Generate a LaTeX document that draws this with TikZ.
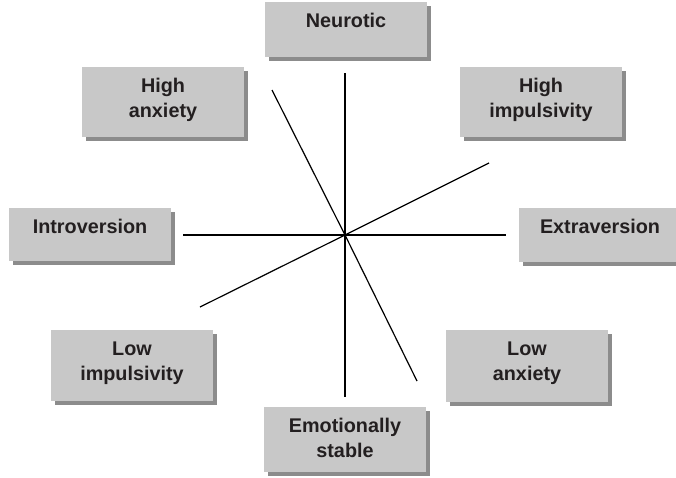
\documentclass[tikz,border=0pt]{standalone}
\usepackage{fontspec}
\usepackage{tikz}
\usetikzlibrary{shadows}
\newfontfamily\lblfont{Liberation Sans}
\definecolor{boxgray}{RGB}{200,200,200}
\definecolor{shadegray}{RGB}{140,140,140}
\definecolor{inkdark}{RGB}{35,31,32}
\tikzset{
  trait/.style={rectangle, fill=boxgray, anchor=north, inner sep=0pt,
                text width=162pt, align=center, text height=25pt, text=inkdark,
                font=\lblfont\bfseries\fontsize{19.8}{25}\selectfont,
                drop shadow={shadow xshift=4pt, shadow yshift=-4pt, fill=shadegray, opacity=1}},
  axisln/.style={black, line width=1.2pt},
}

\begin{document}
\begin{tikzpicture}[x=1pt, y=-1pt]
    \clip (0,0) rectangle (676,477);
    % trait boxes
    \node[trait, text depth=30pt] (neur) at (346,2) {Neurotic};
    \node[trait, text depth=45pt] (hanx) at (163,67) {High\\anxiety};
    \node[trait, text depth=45pt] (himp) at (541,67) {High\\impulsivity};
    \node[trait, text depth=28pt] (intro) at (90,208) {Introversion};
    \node[trait, text depth=29pt] (extra) at (600,208) {Extraversion};
    \node[trait, text depth=46pt] (limp) at (132,330) {Low\\impulsivity};
    \node[trait, text depth=47pt] (lanx) at (527,330) {Low\\anxiety};
    \node[trait, text depth=40pt] (stab) at (345,407) {Emotionally\\stable};
    % axes through the origin
    \coordinate (o) at (345,235);
    \coordinate (nt) at (345,73);    \coordinate (sb) at (345,397);
    \coordinate (iv) at (183,235);   \coordinate (ev) at (506,235);
    \coordinate (ha) at (272,90);    \coordinate (la) at (417,381);
    \coordinate (hi) at (489,163);   \coordinate (li) at (200,307);
    \draw[axisln] (nt) -- (o) -- (sb);
    \draw[axisln] (iv) -- (o) -- (ev);
    \draw[axisln] (ha) -- (o) -- (la);
    \draw[axisln] (hi) -- (o) -- (li);
\end{tikzpicture}
\end{document}
